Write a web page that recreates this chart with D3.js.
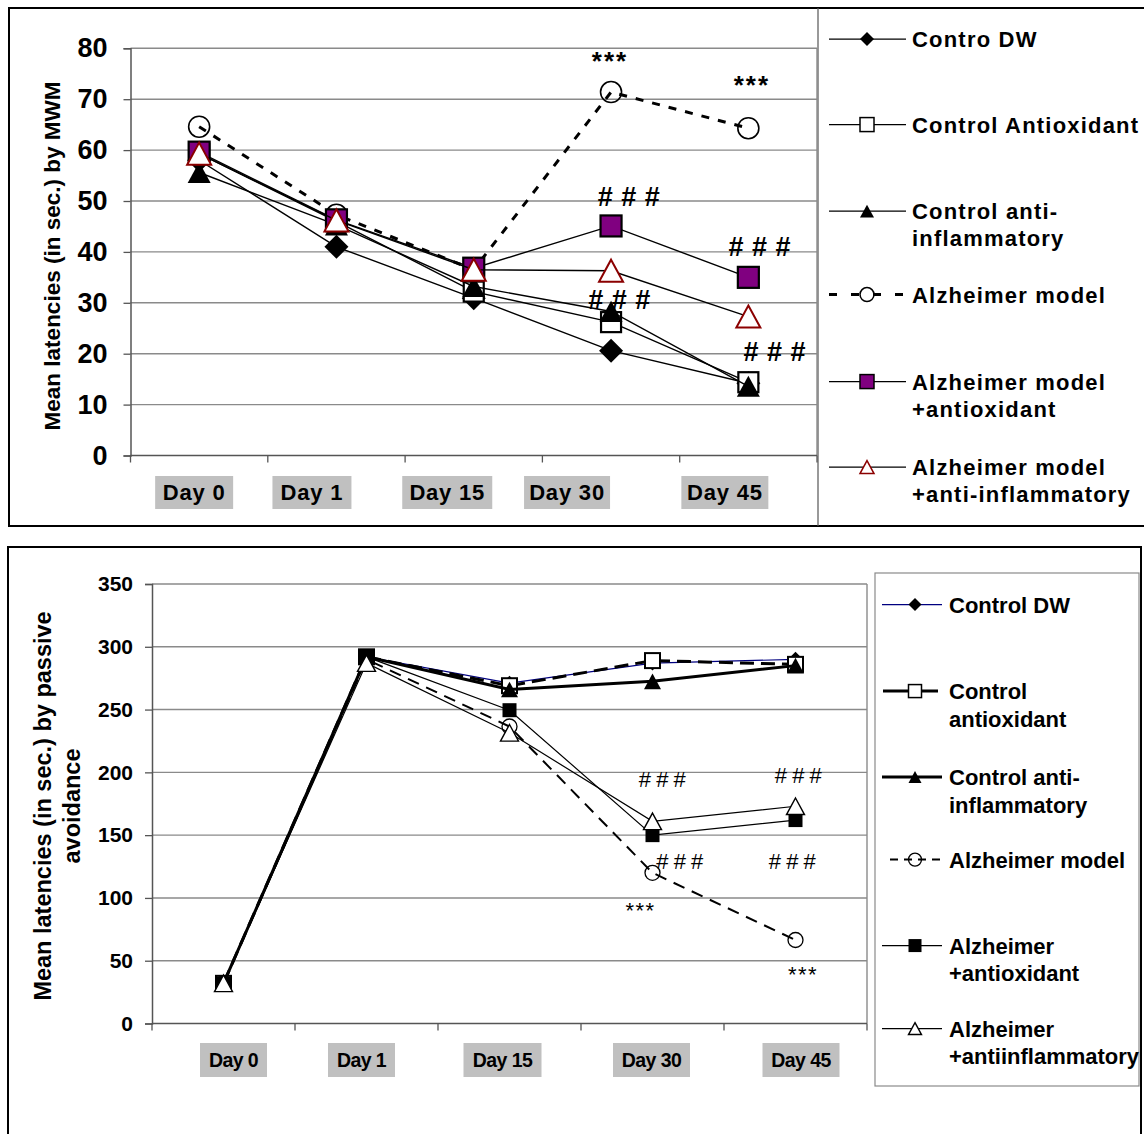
<!DOCTYPE html>
<html>
<head>
<meta charset="utf-8">
<script src="https://cdn.jsdelivr.net/npm/d3@7"></script>
<style>
  html, body { margin: 0; padding: 0; background: #fff; }
  svg { display: block; }
  text { font-family: "Liberation Sans", Arial, Helvetica, sans-serif; }
</style>
</head>
<body>
<svg id="chart" width="1144" height="1134"></svg>
<script>
// ---------------- DATA ----------------
const days = ["Day 0", "Day 1", "Day 15", "Day 30", "Day 45"];

// Top chart: Morris water maze latencies (sec)
const mwmTicks = [0, 10, 20, 30, 40, 50, 60, 70, 80];
const mwmControlDW             = [58.0, 41.0, 30.9, 20.6, 14.2];
const mwmControlAntioxidant    = [59.3, 46.0, 32.2, 26.2, 14.4];
const mwmControlAntiInflam     = [55.6, 45.3, 33.2, 28.3, 13.6];
const mwmAlzheimer             = [64.6, 47.3, 36.5, 71.4, 64.3];
const mwmAlzAntioxidant        = [59.6, 46.3, 36.8, 45.1, 35.0];
const mwmAlzAntiInflam         = [59.3, 46.2, 36.5, 36.3, 27.3];
const mwmLegend = [
  ["Contro DW"],
  ["Control Antioxidant"],
  ["Control anti-", "inflammatory"],
  ["Alzheimer model"],
  ["Alzheimer model", "+antioxidant"],
  ["Alzheimer model", "+anti-inflammatory"]
];
const mwmMarks = [
  { text: "***",   day: "Day 30", value: 71.4 },
  { text: "***",   day: "Day 45", value: 64.3 },
  { text: "# # #", day: "Day 30", value: 45.1 },
  { text: "# # #", day: "Day 45", value: 35.0 },
  { text: "# # #", day: "Day 30", value: 28.3 },
  { text: "# # #", day: "Day 45", value: 13.6 }
];

// Bottom chart: passive avoidance latencies (sec)
const paTicks = [0, 50, 100, 150, 200, 250, 300, 350];
const paControlDW              = [32, 292, 271, 287, 290];
const paControlAntioxidant     = [32, 292, 269, 289, 286];
const paControlAntiInflam      = [32, 292, 266, 272.5, 285];
const paAlzheimer              = [32, 290, 236.5, 120, 66.5];
const paAlzAntioxidant         = [32, 292, 249.5, 150, 162];
const paAlzAntiInflam          = [32, 287, 231.5, 161, 173];
const paLegend = [
  ["Control DW"],
  ["Control", "antioxidant"],
  ["Control anti-", "inflammatory"],
  ["Alzheimer model"],
  ["Alzheimer", "+antioxidant"],
  ["Alzheimer", "+antiinflammatory"]
];
const paMarks = [
  { text: "# # #", day: "Day 30", value: 161 },
  { text: "# # #", day: "Day 45", value: 173 },
  { text: "# # #", day: "Day 30", value: 120 },
  { text: "# # #", day: "Day 45", value: 120 },
  { text: "***",   day: "Day 30", value: 120 },
  { text: "***",   day: "Day 45", value: 66.5 }
];

// ---------------- DRAWING ----------------
const svg = d3.select("#chart");
const FONT = '"Liberation Sans", Arial, Helvetica, sans-serif';
svg.append("rect").attr("width", 1144).attr("height", 1134).attr("fill", "#fff");

function marker(g, type, x, y, s, fill, stroke, sw) {
  let p;
  if (type === "square") {
    p = g.append("rect").attr("x", x - s / 2).attr("y", y - s / 2).attr("width", s).attr("height", s);
  } else if (type === "diamond") {
    const h = s / 2;
    p = g.append("path").attr("d", `M${x},${y - h}L${x + h},${y}L${x},${y + h}L${x - h},${y}Z`);
  } else if (type === "triangle") {
    const w = s, h = s * 0.92;
    p = g.append("path").attr("d", `M${x},${y - h / 2}L${x + w / 2},${y + h / 2}L${x - w / 2},${y + h / 2}Z`);
  } else if (type === "circle") {
    p = g.append("circle").attr("cx", x).attr("cy", y).attr("r", s / 2);
  }
  p.attr("fill", fill).attr("stroke", stroke || "none").attr("stroke-width", sw || 0)
   .attr("stroke-linejoin", "miter");
  return p;
}

function drawChart(cfg) {
  const g = svg.append("g");
  const x = d3.scaleBand().domain(days).range([cfg.left, cfg.right]).padding(0);
  const y = d3.scaleLinear().domain(cfg.domain).range([cfg.bottom, cfg.top]);
  const cx = d => x(d) + x.bandwidth() / 2;

  // gridlines
  g.append("g").selectAll("line").data(cfg.ticks.filter(t => t > cfg.domain[0])).join("line")
    .attr("x1", cfg.left).attr("x2", cfg.right)
    .attr("y1", d => y(d)).attr("y2", d => y(d))
    .attr("stroke", "#8a8a8a").attr("stroke-width", 1.4);
  // right border
  g.append("line").attr("x1", cfg.right).attr("x2", cfg.right)
    .attr("y1", cfg.top).attr("y2", cfg.bottom)
    .attr("stroke", "#8a8a8a").attr("stroke-width", 1.4);

  // y axis
  const ya = g.append("g").attr("transform", `translate(${cfg.left},0)`)
    .call(d3.axisLeft(y).tickValues(cfg.ticks).tickSize(cfg.tickLen).tickPadding(cfg.yPad));
  ya.select(".domain").attr("stroke", "#555").attr("stroke-width", 1.5);
  ya.selectAll(".tick line").attr("stroke", "#555").attr("stroke-width", 1.3);
  ya.selectAll(".tick text").attr("font-family", FONT).attr("font-weight", "bold")
    .attr("font-size", cfg.yFont).attr("fill", "#000");

  // x axis: ticks at category boundaries
  g.append("line").attr("x1", cfg.left).attr("x2", cfg.right)
    .attr("y1", cfg.bottom).attr("y2", cfg.bottom)
    .attr("stroke", "#555").attr("stroke-width", 1.5);
  const bounds = days.map(d => x(d)).concat([cfg.right]);
  g.append("g").selectAll("line").data(bounds).join("line")
    .attr("x1", d => d).attr("x2", d => d)
    .attr("y1", cfg.bottom).attr("y2", cfg.bottom + cfg.tickLen)
    .attr("stroke", "#555").attr("stroke-width", 1.3);

  // x category labels on grey boxes
  days.forEach((d, i) => {
    const lx = cx(d) + cfg.labelNudge[i];
    const w = cfg.labelBox[i];
    g.append("rect").attr("x", lx - w / 2).attr("y", cfg.labelTop)
      .attr("width", w).attr("height", cfg.labelH).attr("fill", "#c0c0c0");
    g.append("text").attr("x", lx).attr("y", cfg.labelTop + cfg.labelH / 2 + cfg.xFont * 0.36)
      .attr("text-anchor", "middle").attr("font-weight", "bold")
      .attr("font-size", cfg.xFont).attr("letter-spacing", cfg.xLs)
      .text(d);
  });

  // y title
  const tg = g.append("text").attr("transform", `translate(${cfg.titleX},${cfg.titleY}) rotate(-90)`)
    .attr("text-anchor", "middle").attr("font-weight", "bold").attr("font-size", cfg.titleFont);
  cfg.title.forEach((t, i) => tg.append("tspan").attr("x", 0).attr("dy", i === 0 ? 0 : cfg.titleLH).text(t));

  // annotations (drawn beneath series)
  cfg.marks.forEach((m, i) => {
    const o = cfg.markPos[i];
    const star = m.text === "***";
    g.append("text").attr("x", cx(m.day) + o[0]).attr("y", y(m.value) + o[1])
      .attr("text-anchor", "middle").attr("font-weight", star ? cfg.starWeight : cfg.hashWeight)
      .attr("font-size", star ? cfg.starFont : cfg.hashFont)
      .attr("letter-spacing", star ? cfg.starLs : cfg.hashLs)
      .text(m.text);
  });

  // series
  const line = d3.line().x((v, i) => cx(days[i])).y(v => y(v));
  cfg.series.forEach(s => {
    const sg = g.append("g");
    sg.append("path").attr("d", line(s.values)).attr("fill", "none")
      .attr("stroke", s.color).attr("stroke-width", s.width)
      .attr("stroke-dasharray", s.dash || null);
    s.values.forEach((v, i) => marker(sg, s.marker, cx(days[i]), y(v), s.size, s.fill, s.stroke, s.sw));
  });

  // legend
  const lg = svg.append("g");
  cfg.legend.forEach((lines, i) => {
    const s = cfg.series[i];
    const by = cfg.legendRows[i];
    const my = by - cfg.legendFont * 0.36;
    const [lx1, lx2] = s.legLine || cfg.legLine;
    lg.append("line").attr("x1", lx1).attr("x2", lx2).attr("y1", my).attr("y2", my)
      .attr("stroke", s.color).attr("stroke-width", s.legWidth || s.width)
      .attr("stroke-dasharray", s.legDash || null);
    marker(lg, s.marker, cfg.legMarkX, my, cfg.legMarkSize, s.fill, s.stroke, s.sw ? Math.min(s.sw, 1.5) : 0);
    const t = lg.append("text").attr("x", cfg.legTextX).attr("y", by)
      .attr("font-weight", "bold").attr("font-size", cfg.legendFont)
      .attr("letter-spacing", cfg.legendLs);
    lines.forEach((ln, k) => t.append("tspan").attr("x", cfg.legTextX).attr("dy", k === 0 ? 0 : cfg.legendLH).text(ln));
  });
}

// Outer frames
svg.append("rect").attr("x", 9).attr("y", 8).attr("width", 1150).attr("height", 518)
  .attr("fill", "none").attr("stroke", "#000").attr("stroke-width", 2);
svg.append("line").attr("x1", 818).attr("x2", 818).attr("y1", 8).attr("y2", 526)
  .attr("stroke", "#555").attr("stroke-width", 1.2);
svg.append("rect").attr("x", 8).attr("y", 547).attr("width", 1133).attr("height", 600)
  .attr("fill", "none").attr("stroke", "#000").attr("stroke-width", 2);
svg.append("rect").attr("x", 875).attr("y", 573).attr("width", 264).attr("height", 513)
  .attr("fill", "#fff").attr("stroke", "#8a8a8a").attr("stroke-width", 1.2);

// Top chart
drawChart({
  left: 130.5, right: 817, top: 48.3, bottom: 455.5, domain: [0, 80], ticks: mwmTicks,
  tickLen: 7, yPad: 16, yFont: 27,
  xFont: 22, xLs: 0.8, labelTop: 476, labelH: 33,
  labelNudge: [-5, -24.5, -26.5, -44, -23.5], labelBox: [78, 79, 90, 86, 87],
  title: ["Mean latencies (in sec.) by MWM"], titleX: 60, titleY: 256, titleFont: 22.5, titleLH: 0,
  marks: mwmMarks,
  markPos: [[-1, -22], [3.5, -34], [18, -20], [11.5, -21], [8.5, -2], [26.5, -25]],
  starFont: 26, starLs: 2, starWeight: "bold", hashFont: 27, hashLs: 0.5, hashWeight: "bold",
  series: [
    { values: mwmControlDW, color: "#000", width: 1.4, marker: "diamond", size: 24, fill: "#000" },
    { values: mwmControlAntioxidant, color: "#000", width: 1.4, marker: "square", size: 20, fill: "#fff", stroke: "#000", sw: 2.2 },
    { values: mwmControlAntiInflam, color: "#000", width: 1.4, marker: "triangle", size: 23, fill: "#000" },
    { values: mwmAlzheimer, color: "#000", width: 3, dash: "8,9", marker: "circle", size: 21, fill: "none", stroke: "#000", sw: 1.6,
      legDash: "8,14", legLine: [829, 907] },
    { values: mwmAlzAntioxidant, color: "#000", width: 1.4, marker: "square", size: 21, fill: "#800080", stroke: "#000", sw: 2.2 },
    { values: mwmAlzAntiInflam, color: "#000", width: 1.4, marker: "triangle", size: 24, fill: "#fff", stroke: "#8b0000", sw: 2 }
  ],
  legend: mwmLegend, legendRows: [47, 132.5, 219, 302.5, 389.5, 475], legendLH: 27,
  legendFont: 22, legendLs: 1.2, legLine: [829, 906], legMarkX: 867, legMarkSize: 14, legTextX: 912
});

// Bottom chart
drawChart({
  left: 152, right: 867, top: 584, bottom: 1023.5, domain: [0, 350], ticks: paTicks,
  tickLen: 7, yPad: 12, yFont: 21,
  xFont: 19.5, xLs: -0.6, labelTop: 1043, labelH: 34,
  labelNudge: [10, -5, -7, -1, 5.5], labelBox: [67, 67, 78, 77, 77],
  title: ["Mean latencies (in sec.) by passive", "avoidance"], titleX: 51, titleY: 806, titleFont: 23.5, titleLH: 29,
  marks: paMarks,
  markPos: [[9.5, -34.5], [2.5, -23], [27, -4], [-3.5, -4], [-12, 45], [7.5, 42]],
  starFont: 22, starLs: 1.5, starWeight: "normal", hashFont: 22, hashLs: -0.5, hashWeight: "normal",
  series: [
    { values: paControlDW, color: "#000080", width: 1.2, marker: "diamond", size: 15, fill: "#000" },
    { values: paControlAntioxidant, color: "#000", width: 3, dash: "14,7", marker: "square", size: 15, fill: "#fff", stroke: "#000", sw: 2,
      legLine: [883, 938] },
    { values: paControlAntiInflam, color: "#000", width: 3, marker: "triangle", size: 17, fill: "#000" },
    { values: paAlzheimer, color: "#000", width: 2, dash: "12,8", marker: "circle", size: 15, fill: "none", stroke: "#000", sw: 1.3,
      legDash: "8,6", legLine: [890, 944] },
    { values: paAlzAntioxidant, color: "#000", width: 1.2, marker: "square", size: 14, fill: "#000" },
    { values: paAlzAntiInflam, color: "#000", width: 1.2, marker: "triangle", size: 18, fill: "#fff", stroke: "#000", sw: 1.4 }
  ],
  legend: paLegend, legendRows: [612.5, 699, 785, 867.5, 953.5, 1036.5], legendLH: 27.5,
  legendFont: 22, legendLs: 0, legLine: [882, 942], legMarkX: 915, legMarkSize: 13, legTextX: 949
});
</script>
</body>
</html>
